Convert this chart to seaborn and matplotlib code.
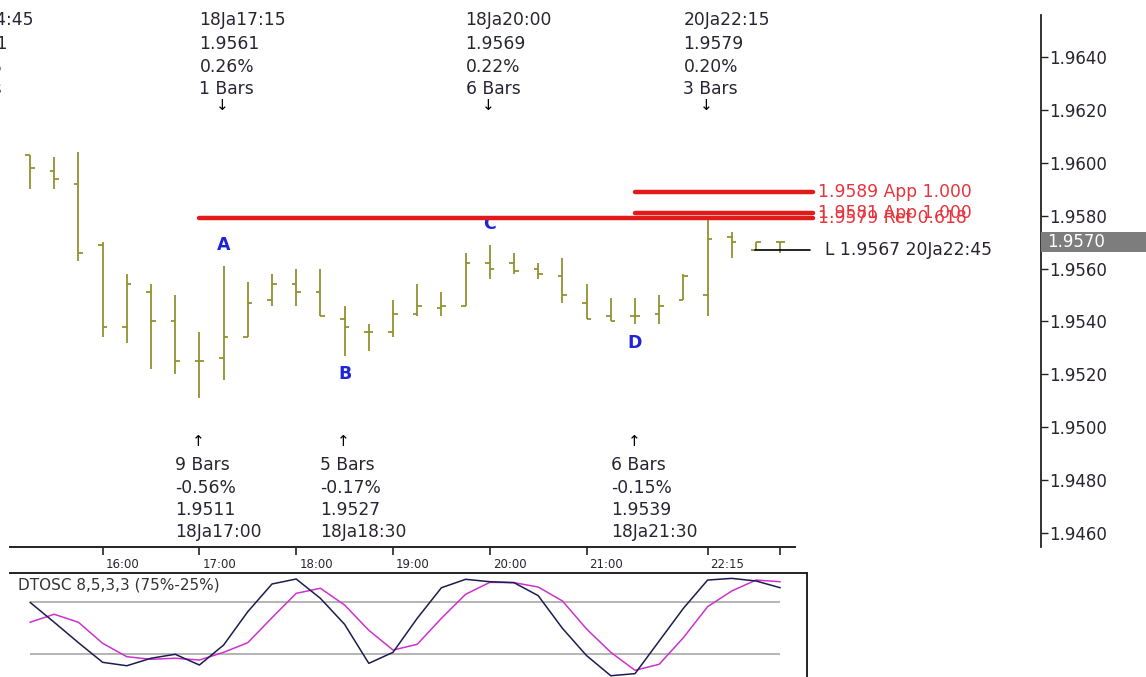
import numpy as np
import pandas as pd
import matplotlib
matplotlib.use("Agg")
import matplotlib.pyplot as plt
import matplotlib.transforms as mtransforms
from matplotlib.patches import Rectangle
import seaborn as sns

# ---------------- data ----------------
bar_times = ["15:15", "15:30", "15:45", "16:00", "16:15", "16:30", "16:45", "17:00",
             "17:15", "17:30", "17:45", "18:00", "18:15", "18:30", "18:45", "19:00",
             "19:15", "19:30", "19:45", "20:00", "20:15", "20:30", "20:45", "21:00",
             "21:15", "21:30", "21:45", "22:00", "22:15", "22:30", "22:45", "23:00"]
opens  = [1.9603, 1.9597, 1.9592, 1.9569, 1.9538, 1.9551, 1.9540, 1.9525,
          1.9526, 1.9534, 1.9548, 1.9554, 1.9551, 1.9541, 1.9536, 1.9536,
          1.9543, 1.9545, 1.9546, 1.9562, 1.9562, 1.9560, 1.9557, 1.9547,
          1.9542, 1.9542, 1.9543, 1.9548, 1.9550, 1.9572, 1.9567, 1.9570]
highs  = [1.9603, 1.9602, 1.9604, 1.9570, 1.9558, 1.9554, 1.9550, 1.9536,
          1.9561, 1.9555, 1.9558, 1.9560, 1.9560, 1.9546, 1.9539, 1.9548,
          1.9554, 1.9551, 1.9566, 1.9569, 1.9566, 1.9562, 1.9564, 1.9554,
          1.9549, 1.9549, 1.9550, 1.9558, 1.9579, 1.9574, 1.9570, 1.9570]
lows   = [1.9590, 1.9590, 1.9563, 1.9534, 1.9532, 1.9522, 1.9520, 1.9511,
          1.9518, 1.9534, 1.9546, 1.9546, 1.9542, 1.9527, 1.9529, 1.9534,
          1.9542, 1.9542, 1.9546, 1.9556, 1.9558, 1.9556, 1.9547, 1.9541,
          1.9540, 1.9539, 1.9539, 1.9548, 1.9542, 1.9564, 1.9567, 1.9566]
closes = [1.9598, 1.9594, 1.9566, 1.9538, 1.9554, 1.9540, 1.9525, 1.9525,
          1.9534, 1.9547, 1.9554, 1.9551, 1.9542, 1.9538, 1.9536, 1.9543,
          1.9546, 1.9546, 1.9562, 1.9560, 1.9559, 1.9558, 1.9550, 1.9541,
          1.9540, 1.9542, 1.9546, 1.9557, 1.9571, 1.9570, 1.9570, 1.9570]

osc_fast = [75, 55.8, 36.2, 17.3, 14, 21.2, 25, 14.7, 33.9, 66, 92.6, 97.4, 78.8, 53.8,
            16.3, 26.9, 59.6, 89, 97.1, 94.8, 93.9, 81.4, 50, 23.7, 4.4, 6.4, 37.8,
            69.2, 96.4, 98, 95.5, 89]
osc_slow = [55.8, 63.5, 55.8, 35.6, 22.7, 20.2, 21.2, 19.5, 26.9, 36.2, 60.2, 83.6,
            88.5, 72.4, 48.1, 29.1, 34.6, 59.6, 82.7, 94.2, 93.9, 89.7, 76.3, 49.3,
            26.9, 9.6, 15.4, 41, 70.8, 85.9, 96.4, 94.8]
osc_levels = [75, 25]
osc_title = "DTOSC 8,5,3,3 (75%-25%)"

price_ticks = [1.9460, 1.9480, 1.9500, 1.9520, 1.9540, 1.9560, 1.9580, 1.9600, 1.9620, 1.9640]
last_price = 1.9570

time_tick_bars = [3, 7, 11, 15, 19, 23, 28, 31]
time_tick_labels = ["16:00", "17:00", "18:00", "19:00", "20:00", "21:00", "22:15", ""]

# swing-high labels (above)
top_bars = [-2, 8, 19, 28]
top_time = ["18Ja14:45", "18Ja17:15", "18Ja20:00", "20Ja22:15"]
top_price = ["1.9611", "1.9561", "1.9569", "1.9579"]
top_pct = ["0.31%", "0.26%", "0.22%", "0.20%"]
top_count = ["7 Bars", "1 Bars", "6 Bars", "3 Bars"]
# swing-low labels (below)
bot_bars = [7, 13, 25]
bot_count = ["9 Bars", "5 Bars", "6 Bars"]
bot_pct = ["-0.56%", "-0.17%", "-0.15%"]
bot_price = ["1.9511", "1.9527", "1.9539"]
bot_time = ["18Ja17:00", "18Ja18:30", "18Ja21:30"]

# ABCD pattern points
abcd_names = ["A", "B", "C", "D"]
abcd_bars = [8, 13, 19, 25]
abcd_is_high = [True, False, True, False]

# projection levels
level_values = [1.9589, 1.9581, 1.9579]
level_labels = ["1.9589 App 1.000", "1.9581 App 1.000", "1.9579 Ret 0.618"]
level_start_bar = [25, 25, 7]

low_marker_value = 1.9567
low_marker_bar = 30
low_marker_label = "L 1.9567 20Ja22:45"

# ---------------- style ----------------
sns.set_theme(style="white")
plt.rcParams['font.family'] = ['DejaVu Sans']

W, H = 1146, 677
fig = plt.figure(figsize=(W / 100, H / 100), dpi=100, facecolor="white")


def fx(px):
    return px / W


def fy(px):
    return 1 - px / H


def px_to_idx(px):
    return (px - 30) / 24.2


def px_to_price(py):
    return 1.9640 - (py - 57) / 26444.0


def px_to_osc(py):
    return 25 + (654.3 - py) / 1.04


BAR_C = "#929230"
TXT_C = "#2a2430"
RED = "#e31a1a"
RED_T = "#e8343c"
BLUE = "#1f24d6"
DARK = "#222222"

# ---------------- price pane ----------------
ax = fig.add_axes([0, fy(547), fx(1041), (547 - 15) / H])
ax.set_facecolor("none")
idx = np.arange(len(opens))
ax.set_xlim(px_to_idx(0), px_to_idx(1041))
ax.set_ylim(px_to_price(547), px_to_price(15))

ax.vlines(idx, lows, highs, color=BAR_C, lw=1.3, zorder=3)
tk = 0.19
ax.hlines(opens, idx - tk, idx, color=BAR_C, lw=1.3, zorder=3)
ax.hlines(closes, idx, idx + tk, color=BAR_C, lw=1.3, zorder=3)

for sp in ["left", "top", "bottom"]:
    ax.spines[sp].set_visible(False)
ax.spines["right"].set_color(DARK)
ax.spines["right"].set_linewidth(1.3)
ax.set_xticks([])
ax.yaxis.tick_right()
ax.set_yticks(price_ticks)
ax.set_yticklabels([f"{v:.4f}" for v in price_ticks])
ax.tick_params(axis="y", right=True, left=False, labelright=True, labelleft=False,
               direction="out", length=5, width=1, color=DARK, labelsize=12,
               labelcolor=TXT_C, pad=1)
ax.grid(False)

# last price box
bt = mtransforms.blended_transform_factory(ax.transAxes, ax.transData)
ax.add_patch(Rectangle((1.0, last_price - 0.00038), 0.2, 0.00076, transform=bt,
                       facecolor="#7d7d7d", edgecolor="none", clip_on=False, zorder=6))
ax.text(1047 / 1041, last_price, f"{last_price:.4f}", transform=bt, color="white",
        fontsize=12, va="center", ha="left", zorder=7, clip_on=False)

# ABCD labels
for name, b, hi in zip(abcd_names, abcd_bars, abcd_is_high):
    yv = highs[b] + 0.0008 if hi else lows[b] - 0.0007
    ax.text(b, yv, name, color=BLUE, fontsize=12.5, fontweight="bold",
            ha="center", va="center", zorder=2)

# projection lines
lvl_end = px_to_idx(813)
for val, lab, sb in zip(level_values, level_labels, level_start_bar):
    ax.plot([sb, lvl_end], [val, val], color=RED, lw=3.2, solid_capstyle="round", zorder=4)
    ax.text(px_to_idx(818), val, lab, color=RED_T, fontsize=12.3, va="center",
            ha="left", zorder=5, clip_on=False)

# low marker
ax.plot([low_marker_bar - 0.05, px_to_idx(810)], [low_marker_value, low_marker_value],
        color="black", lw=1.2, zorder=4)
ax.text(px_to_idx(825), low_marker_value, low_marker_label, color=TXT_C, fontsize=12.3,
        va="center", ha="left", zorder=5)

# swing labels
tf = mtransforms.blended_transform_factory(ax.transData, fig.transFigure)
for b, t, p, pc, c in zip(top_bars, top_time, top_price, top_pct, top_count):
    # the label of the bar before the visible window hangs further left
    x0 = b - 1 - (0.41 if b < 0 else 0)
    for text, py in zip([t, p, pc, c], [20, 44, 67, 89]):
        ax.text(x0, fy(py), text, transform=tf, color=TXT_C, fontsize=12.3,
                ha="left", va="center", clip_on=False)
    ax.text(b - 0.05, fy(106), "\u2193", transform=tf, color="black", fontsize=11,
            ha="center", va="center", clip_on=False)
for b, c, pc, p, t in zip(bot_bars, bot_count, bot_pct, bot_price, bot_time):
    ax.text(b - 0.05, fy(441), "\u2191", transform=tf, color="black", fontsize=11,
            ha="center", va="center", clip_on=False)
    for text, py in zip([c, pc, p, t], [465, 488, 510, 532]):
        ax.text(b - 1, fy(py), text, transform=tf, color=TXT_C, fontsize=12.3,
                ha="left", va="center", clip_on=False)

# ---------------- time axis ----------------
axx = fig.add_axes([fx(10), fy(547), fx(795 - 10), 1 / H])
axx.set_facecolor("none")
axx.set_xlim(px_to_idx(10), px_to_idx(795))
for sp in ["left", "top", "right"]:
    axx.spines[sp].set_visible(False)
axx.spines["bottom"].set_color(DARK)
axx.spines["bottom"].set_linewidth(1.4)
axx.set_yticks([])
axx.set_xticks(time_tick_bars)
axx.set_xticklabels(time_tick_labels)
axx.tick_params(axis="x", bottom=True, direction="out", length=6, width=1.2,
                color=DARK, labelsize=8.5, labelcolor=TXT_C, pad=2)
off = mtransforms.ScaledTranslation(3 / 100, 0, fig.dpi_scale_trans)
for lbl in axx.get_xticklabels():
    lbl.set_ha("left")
    lbl.set_transform(lbl.get_transform() + off)

# ---------------- oscillator pane ----------------
axo = fig.add_axes([fx(10), fy(690), fx(807 - 10), (690 - 573) / H])
axo.set_facecolor("none")
axo.set_xlim(px_to_idx(10), px_to_idx(807))
axo.set_ylim(px_to_osc(690), px_to_osc(573))
for lv in osc_levels:
    axo.hlines(lv, 0, len(osc_fast) - 1, color="#a8a8a8", lw=1.2, zorder=1)
osc_df = pd.DataFrame({"bar": idx, "fast": osc_fast, "slow": osc_slow})
sns.lineplot(data=osc_df, x="bar", y="slow", ax=axo, color="#cc33cc", lw=1.1, zorder=2)
sns.lineplot(data=osc_df, x="bar", y="fast", ax=axo, color="#1c1c50", lw=1.1, zorder=3)
axo.set_xlabel("")
axo.set_ylabel("")
axo.set_xticks([])
axo.set_yticks([])
axo.spines["left"].set_visible(False)
for sp in ["top", "right", "bottom"]:
    axo.spines[sp].set_color(DARK)
    axo.spines[sp].set_linewidth(1.4)
fig.text(fx(18), fy(585), osc_title, color="#333333", fontsize=11, ha="left", va="center")

fig.savefig("out.png", dpi=100, facecolor="white")
